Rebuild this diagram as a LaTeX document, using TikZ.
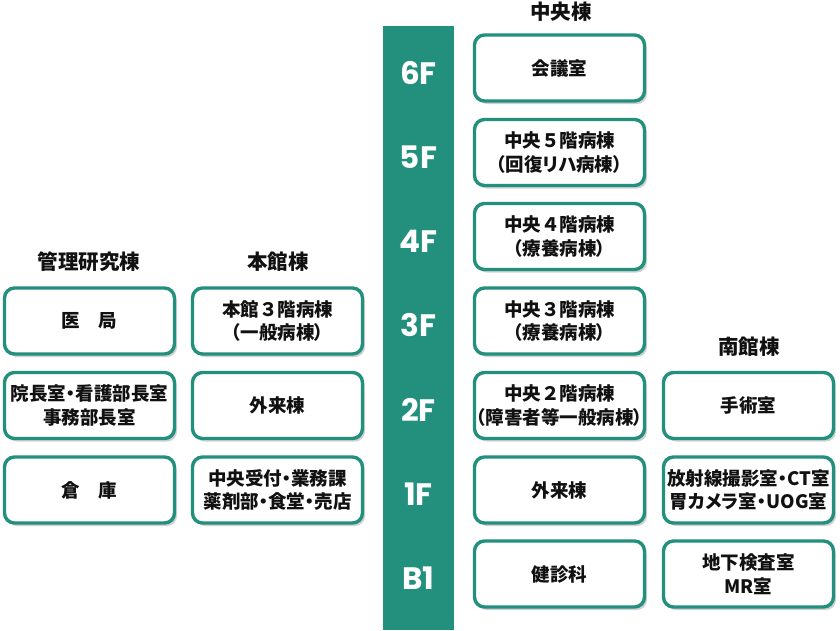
\documentclass[tikz,border=0pt]{standalone}
\usepackage{fontspec}
\setmainfont{Noto Sans CJK JP}
\newfontfamily\paltfont[RawFeature=+palt]{Noto Sans CJK JP}
\newfontfamily\plainjp{Noto Sans CJK JP}
\newcommand\fwd[1]{{\plainjp\bfseries #1}}
\newfontfamily\floorfont{Poppins}
\usetikzlibrary{shadows}
\definecolor{teal1}{HTML}{22907D}
\definecolor{ink}{HTML}{111111}
\tikzset{
  room/.style={draw=teal1, line width=3.4pt, rounded corners=10pt, fill=white,
    minimum width=170pt, minimum height=66pt, align=center, inner sep=0pt,
    font=\paltfont\fontsize{18.5pt}{23.5pt}\selectfont\bfseries, text=ink,
    drop shadow={shadow xshift=2.5pt, shadow yshift=-3pt, fill=black, opacity=0.18}},
  head/.style={font=\fontsize{20.5pt}{22pt}\selectfont\bfseries, text=ink},
  floor/.style={font=\fontsize{31pt}{32pt}\selectfont\floorfont\bfseries, text=white}
}
\begin{document}
\begin{tikzpicture}[x=1pt,y=-1pt]
\useasboundingbox (0,0) rectangle (840,630);
\fill[white] (0,0) rectangle (840,630);
\fill[teal1] (383,26) rectangle (454,630);
% floor labels
\node[floor] (f6) at (418.5,73) {6F};
\node[floor] (f5) at (418.5,157) {5F};
\node[floor] (f4) at (418.5,241) {4F};
\node[floor] (f3) at (418.5,325.5) {3F};
\node[floor] (f2) at (418.5,409.5) {2F};
\node[floor] (f1) at (418.5,494) {1F};
\node[floor] (fb1) at (418.5,578) {B1};
% headers
\node[head] (hc) at (561,12) {中央棟};
\node[head] (hk) at (89,262) {管理研究棟};
\node[head] (hh) at (278,262) {本館棟};
\node[head] (hs) at (749,347) {南館棟};
% center column
\node[room] (c6) at (559.5,68) {会議室};
\node[room] (c5) at (559.5,152.5) {中央\fwd{５}階病棟\\（回復リハ病棟）};
\node[room] (c4) at (559.5,236.5) {中央\fwd{４}階病棟\\（療養病棟）};
\node[room] (c3) at (559.5,321) {中央\fwd{３}階病棟\\（療養病棟）};
\node[room] (c2) at (559.5,405.5) {中央\fwd{２}階病棟\\（障害者等一般病棟）};
\node[room] (c1) at (559.5,490) {外来棟};
\node[room] (cb1) at (559.5,574) {健診科};
% honkan
\node[room] (h3) at (277.5,321) {本館\fwd{３}階病棟\\（一般病棟）};
\node[room] (h2) at (277.5,405.5) {外来棟};
\node[room] (h1) at (277.5,490) {中央受付・業務課\\薬剤部・食堂・売店};
% kanri
\node[room] (k3) at (89.5,321) {医　局};
\node[room] (k2) at (89.5,405.5) {院長室・看護部長室\\事務部長室};
\node[room] (k1) at (89.5,490) {倉　庫};
% minami
\node[room] (s2) at (748.5,405.5) {手術室};
\node[room] (s1) at (748.5,490) {放射線撮影室・CT室\\胃カメラ室・UOG室};
\node[room] (sb1) at (748.5,574) {地下検査室\\MR室};
\end{tikzpicture}
\end{document}
